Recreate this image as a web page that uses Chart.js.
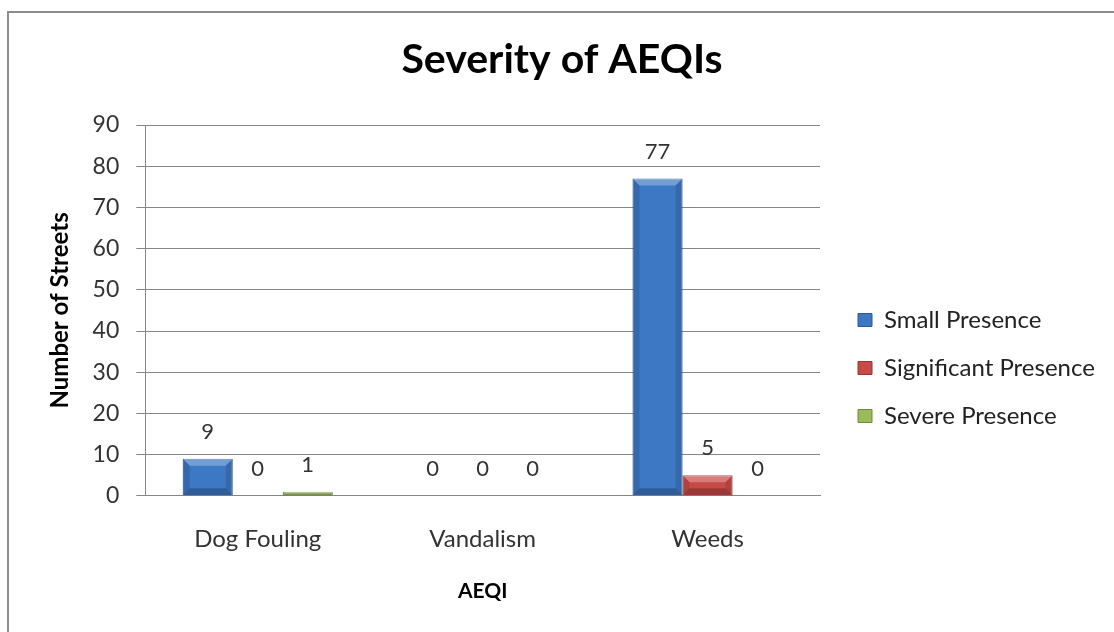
<!DOCTYPE html>
<html>
<head>
<meta charset="utf-8">
<title>Severity of AEQIs</title>
<script src="https://cdn.jsdelivr.net/npm/chart.js@4.4.1/dist/chart.umd.min.js"></script>
<style>
  html, body { margin: 0; padding: 0; background: #fff; overflow: hidden; }
  #frame {
    position: absolute; left: 7px; top: 11px; width: 1130px; height: 640px;
    border: 2px solid #8c8c8c; box-sizing: border-box;
  }
  #wrap { position: absolute; left: 0; top: 0; width: 1114px; height: 632px; }
</style>
</head>
<body>
<div id="frame"></div>
<div id="wrap"><canvas id="aeqiChart" width="1114" height="632"></canvas></div>
<script>
const categories = ["Dog Fouling", "Vandalism", "Weeds"];
const seriesNames = ["Small Presence", "Significant Presence", "Severe Presence"];
const smallPresence = [9, 0, 77];
const significantPresence = [0, 0, 5];
const severePresence = [1, 0, 0];

const faceColors = ["#3d78c4", "#c84a47", "#9bbb59"];
const edgeColors = ["#2b5a98", "#943634", "#71893f"];

const FONT = "Lato, 'Open Sans', sans-serif";

let ctx = document.getElementById("aeqiChart").getContext("2d");

// value above each bar
const valueLabels = {
  id: "value-labels",
  afterDatasetsDraw(chart) {
    const c = chart.ctx;
    c.save();
    c.font = "22px " + FONT;
    c.fillStyle = "#333";
    c.textAlign = "center";
    c.textBaseline = "middle";
    chart.data.datasets.forEach((ds, i) => {
      chart.getDatasetMeta(i).data.forEach((bar, j) => {
        c.fillText(String(ds.data[j]), bar.x, bar.y - 27);
      });
    });
    c.restore();
  },
};

// office-style bevel on the bars
const bevel = {
  id: "bevel",
  afterDatasetsDraw(chart) {
    const c = chart.ctx;
    c.save();
    chart.data.datasets.forEach((ds, i) => {
      chart.getDatasetMeta(i).data.forEach((bar) => {
        const h = bar.base - bar.y;
        if (h < 1) return;
        const l = bar.x - bar.width / 2, r = bar.x + bar.width / 2;
        const t = bar.y, b = bar.base;
        const s = Math.min(7, h / 2);
        // top light
        c.fillStyle = "rgba(255,255,255,0.28)";
        c.beginPath();
        c.moveTo(l, t); c.lineTo(r, t); c.lineTo(r - s, t + s); c.lineTo(l + s, t + s);
        c.closePath(); c.fill();
        // sides dark
        c.fillStyle = "rgba(0,0,0,0.12)";
        c.beginPath();
        c.moveTo(l, t); c.lineTo(l + s, t + s); c.lineTo(l + s, b - s); c.lineTo(l, b);
        c.closePath(); c.fill();
        c.beginPath();
        c.moveTo(r, t); c.lineTo(r - s, t + s); c.lineTo(r - s, b - s); c.lineTo(r, b);
        c.closePath(); c.fill();
        // bottom darker
        c.fillStyle = "rgba(0,0,0,0.22)";
        c.beginPath();
        c.moveTo(l, b); c.lineTo(l + s, b - s); c.lineTo(r - s, b - s); c.lineTo(r, b);
        c.closePath(); c.fill();
      });
    });
    c.restore();
  },
};

// fixed legend width, then move the legend block to where the original sits
const legendPlace = {
  id: "legend-place",
  beforeLayout(chart) {
    const lg = chart.legend;
    if (lg && !lg._fixedFit) {
      const fit = lg.fit;
      lg.fit = function () {
        fit.call(this);
        this.width = 284;
      };
      lg._fixedFit = true;
    }
  },
  afterLayout(chart) {
    const lg = chart.legend;
    if (!lg) return;
    lg.left += 14; lg.right += 14;
    lg.top += 61; lg.bottom += 61;
  },
};

const data = {
  labels: categories,
  datasets: [smallPresence, significantPresence, severePresence].map((vals, i) => ({
    label: seriesNames[i],
    data: vals,
    backgroundColor: faceColors[i],
    borderColor: edgeColors[i],
    borderWidth: 1,
    categoryPercentage: 0.667,
    barPercentage: 1.0,
  })),
};

let aeqiChart = new Chart(ctx, {
  type: "bar",
  data: data,
  options: {
    responsive: false,
    animation: false,
    layout: {
      padding: { top: 10, left: 20, right: 10, bottom: 28 },
    },
    scales: {
      x: {
        grid: { display: false, drawTicks: false },
        border: { display: true, color: "#868686", width: 1 },
        ticks: { color: "#333", font: { family: FONT, size: 24, lineHeight: 1.0 }, padding: 31 },
        title: {
          display: true,
          text: "AEQI",
          color: "#000",
          font: { family: FONT, size: 21, weight: "bold" },
          padding: { top: -3, bottom: 0 },
        },
      },
      y: {
        min: 0,
        max: 90,
        ticks: { stepSize: 10, color: "#333", font: { family: FONT, size: 23 }, padding: 17 },
        grid: { color: "#868686", tickLength: 9, drawTicks: true },
        border: { display: true, color: "#868686", width: 1 },
        title: {
          display: true,
          text: "Number of Streets",
          color: "#000",
          font: { family: FONT, size: 24, weight: "bold" },
          padding: { top: 25.6, bottom: 1.2 },
        },
      },
    },
    plugins: {
      title: {
        display: true,
        text: "Severity of AEQIs",
        color: "#000",
        font: { family: FONT, size: 41, weight: "bold" },
        padding: { top: 25.4, bottom: 40.4 },
      },
      legend: {
        position: "right",
        labels: {
          boxWidth: 14,
          boxHeight: 13,
          padding: 24,
          color: "#222",
          font: { family: FONT, size: 24 },
        },
      },
      tooltip: { enabled: false },
    },
  },
  plugins: [bevel, valueLabels, legendPlace],
});
</script>
</body>
</html>
